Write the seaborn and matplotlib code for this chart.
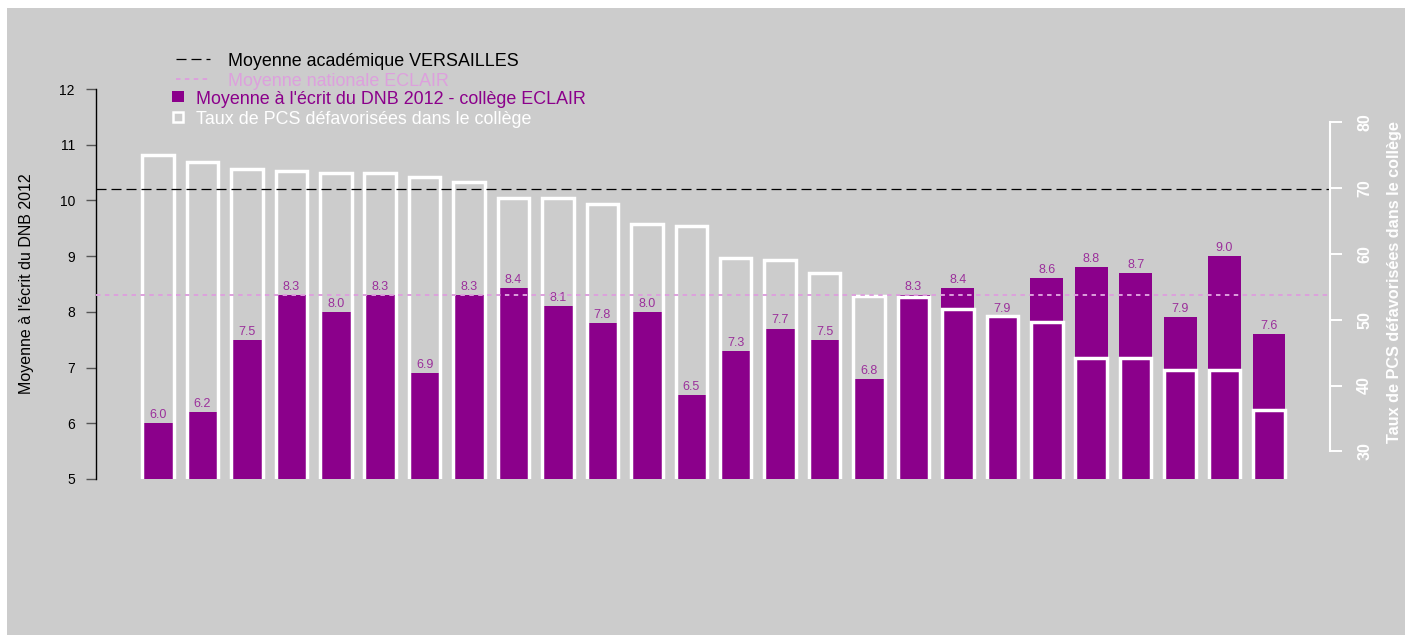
import matplotlib
matplotlib.use("Agg")
import matplotlib.pyplot as plt
import matplotlib.transforms as mtransforms
from matplotlib.lines import Line2D
from matplotlib.patches import Rectangle
import pandas as pd
import seaborn as sns

# one bar per collège ECLAIR (no names on the chart)
colleges = ["C%02d" % i for i in range(1, 27)]
dnb_2012 = [6.0, 6.2, 7.5, 8.3, 8.0, 8.3, 6.9, 8.3, 8.43, 8.1, 7.8, 8.0, 6.5,
            7.3, 7.7, 7.5, 6.8, 8.3, 8.43, 7.9, 8.6, 8.8, 8.7, 7.9, 9.0, 7.6]
pcs_defav = [75.0, 73.9, 72.9, 72.6, 72.3, 72.3, 71.6, 70.8, 68.4, 68.4, 67.6, 64.5, 64.2,
             59.3, 59.0, 57.1, 53.6, 53.4, 51.6, 50.5, 49.7, 44.2, 44.2, 42.4, 42.4, 36.3]
moy_versailles = 10.2
moy_nat_eclair = 8.3

left_ticks = [5, 6, 7, 8, 9, 10, 11, 12]
right_ticks = [30, 40, 50, 60, 70, 80]
legend_labels = ["Moyenne académique VERSAILLES",
                 "Moyenne nationale ECLAIR",
                 "Moyenne à l'écrit du DNB 2012 - collège ECLAIR",
                 "Taux de PCS défavorisées dans le collège"]

PURPLE = "#8b008b"
PLUM = "#dda0dd"
GRAY = "#cccccc"

plt.rcParams['font.family'] = ['Liberation Sans', 'DejaVu Sans']
plt.rcParams['lines.scale_dashes'] = False

df = pd.DataFrame({'college': colleges, 'dnb': dnb_2012, 'pcs': pcs_defav})

W, H = 1405, 635
fig = plt.figure(figsize=(W / 100, H / 100), dpi=100, facecolor=GRAY)
# white strips left/top (screenshot crop)
fig.add_artist(Rectangle((0, 1 - 8 / H), 1, 8 / H, transform=fig.transFigure,
                         facecolor='white', edgecolor='none', zorder=-5))
fig.add_artist(Rectangle((0, 0), 7 / W, 1, transform=fig.transFigure,
                         facecolor='white', edgecolor='none', zorder=-5))

def fx(px):
    return px / W

def fy(py):
    return 1 - py / H

ax = fig.add_axes([fx(96), fy(479), 1234 / W, 390 / H])
ax.set_facecolor('none')
ax2 = ax.twinx()

sns.barplot(data=df, x='college', y='dnb', color=PURPLE, saturation=1, width=0.74,
            errorbar=None, linewidth=0, ax=ax)
sns.barplot(data=df, x='college', y='pcs', color='white', saturation=1, width=0.709,
            errorbar=None, fill=False, linewidth=2.5, ax=ax2)

ax.bar_label(ax.containers[0], fmt='%.1f', padding=1.5, fontsize=9, color='#9b309b')

# reference lines drawn above the bars, in left-axis units
trans = mtransforms.blended_transform_factory(ax2.transAxes, ax.transData)
ax2.plot([0, 1], [moy_versailles] * 2, transform=trans, color='black', lw=0.9,
         linestyle=(0, (7.2, 3.6)), scalex=False, scaley=False)
ax2.plot([0, 1], [moy_nat_eclair] * 2, transform=trans, color=PLUM, lw=1.4,
         linestyle=(0, (3.2, 3.2)), scalex=False, scaley=False)

ax.set_xlim(-1.395, 26.373)
ax.set_ylim(5, 12)
ax2.set_ylim(25.83, 84.96)
ax.set_xticks([])
ax.set_xlabel('')
ax2.set_xlabel('')

for s in ['top', 'right', 'bottom']:
    ax.spines[s].set_visible(False)
for s in ['top', 'left', 'bottom']:
    ax2.spines[s].set_visible(False)
ax.spines['left'].set_bounds(5, 12)
ax.spines['left'].set_color('black')
ax.spines['left'].set_linewidth(1)
ax2.spines['right'].set_bounds(30, 80)
ax2.spines['right'].set_color('white')
ax2.spines['right'].set_linewidth(1.5)

ax.set_yticks(left_ticks)
ax.tick_params(axis='y', length=7.2, width=1, color='#555555', pad=8,
               labelsize=10, labelcolor='black')
ax.set_ylabel("Moyenne à l'écrit du DNB 2012", fontsize=11.5, color='black')
ax.yaxis.set_label_coords(-0.0502, 0.5)

ax2.set_yticks(right_ticks, [str(t) for t in right_ticks], rotation=90,
               fontweight='bold', va='center')
ax2.tick_params(axis='y', length=8.6, width=1.4, color='white', pad=11,
                labelsize=11.5, labelcolor='white')
ax2.set_ylabel("Taux de PCS défavorisées dans le collège", fontsize=11.7,
               fontweight='bold', color='white')
ax2.yaxis.set_label_coords(1.0462, 0.505)

# legend, drawn by hand (two blocks with different offsets)
fig.add_artist(Line2D([fx(176), fx(210)], [fy(59.3)] * 2, transform=fig.transFigure,
                      color='black', lw=0.9, linestyle=(0, (7.2, 3.6))))
fig.add_artist(Line2D([fx(176), fx(210)], [fy(79)] * 2, transform=fig.transFigure,
                      color=PLUM, lw=1.4, linestyle=(0, (3.2, 3.2))))
fig.add_artist(Rectangle((fx(172), fy(102)), 12 / W, 11 / H, transform=fig.transFigure,
                         facecolor=PURPLE, edgecolor='none'))
fig.add_artist(Rectangle((fx(173.3), fy(121.7)), 9.5 / W, 9.5 / H, transform=fig.transFigure,
                         facecolor='none', edgecolor='white', lw=1.8))
fig.text(fx(228), fy(66), legend_labels[0], fontsize=12.85, color='black', va='baseline')
fig.text(fx(228), fy(86), legend_labels[1], fontsize=12.85, color=PLUM, va='baseline')
fig.text(fx(196), fy(104.5), legend_labels[2], fontsize=12.85, color=PURPLE, va='baseline')
fig.text(fx(196), fy(124), legend_labels[3], fontsize=12.85, color='white', va='baseline')

fig.savefig("out.png", dpi=100, facecolor=GRAY)
